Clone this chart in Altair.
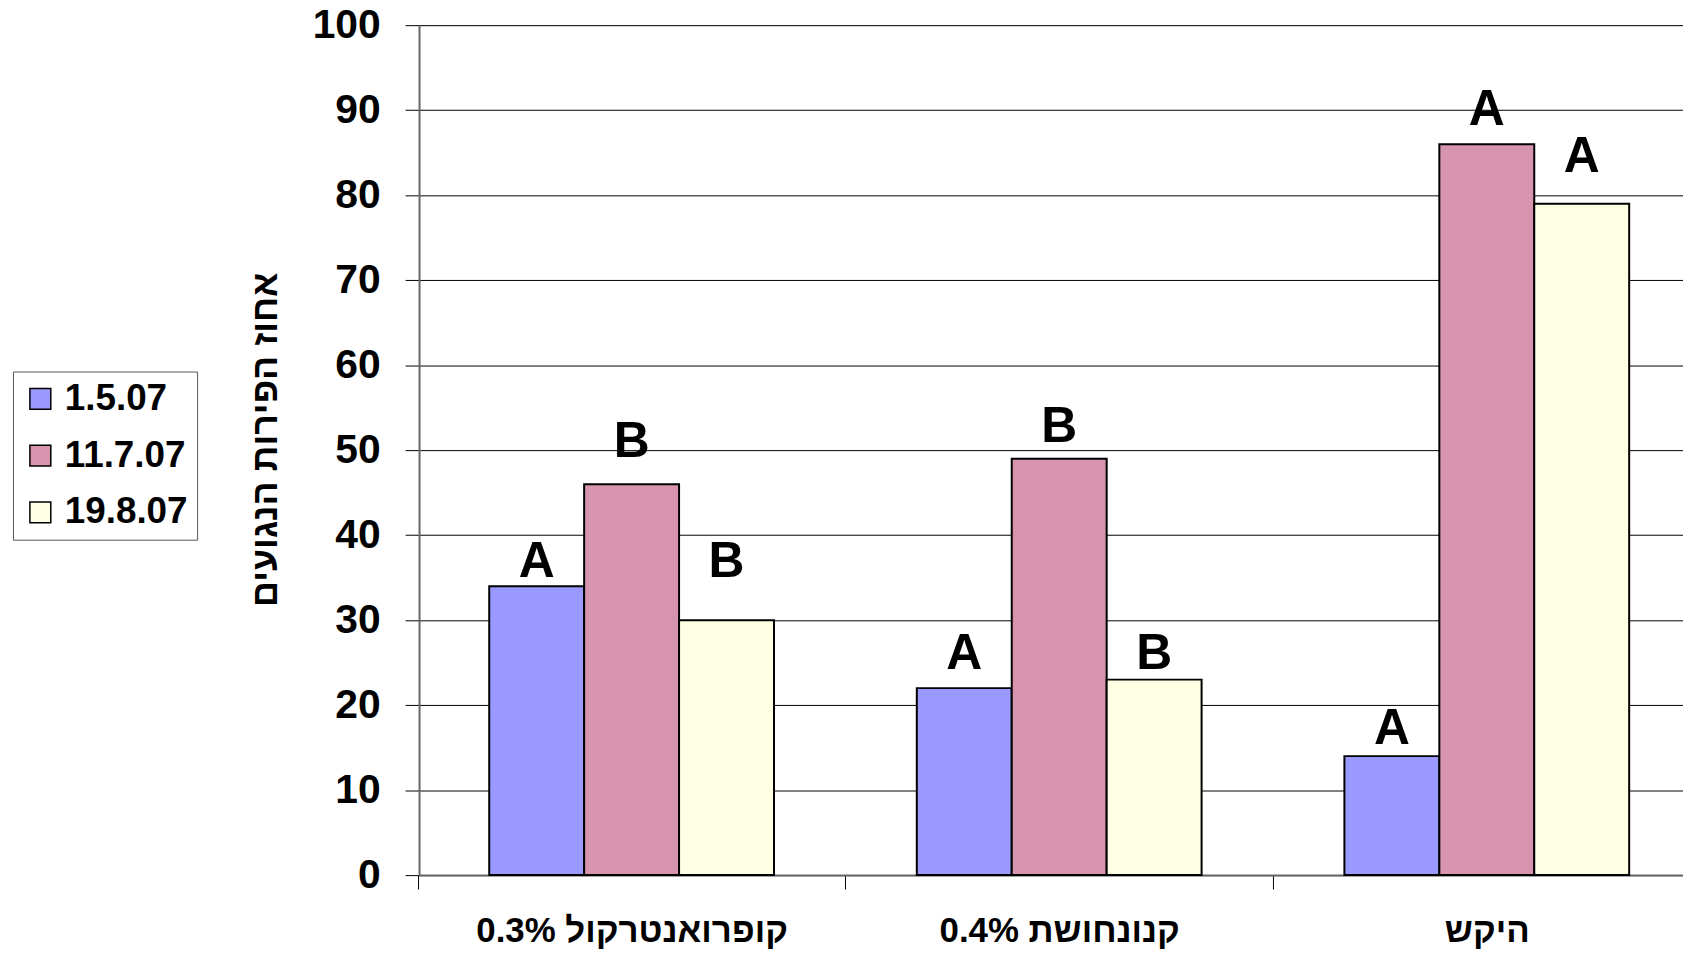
import altair as alt
import pandas as pd

FONT = "Liberation Sans, Arial, sans-serif"

categories = ["0.3% קופרואנטרקול", "0.4% קנונחושת", "היקש"]
dates = ["1.5.07", "11.7.07", "19.8.07"]
values_by_date = {
    "1.5.07": [34, 22, 14],
    "11.7.07": [46, 49, 86],
    "19.8.07": [30, 23, 79],
}
letters_by_date = {
    "1.5.07": ["A", "A", "A"],
    "11.7.07": ["B", "B", "A"],
    "19.8.07": ["B", "B", "A"],
}
# height (in axis units) at which each significance letter is written
letter_height_by_date = {
    "1.5.07": [36.8, 26.0, 17.2],
    "11.7.07": [50.9, 52.7, 90.0],
    "19.8.07": [36.8, 26.0, 84.5],
}
colors = ["#9999ff", "#d794ae", "#ffffe4"]
y_ticks = [0, 10, 20, 30, 40, 50, 60, 70, 80, 90, 100]

rows = []
for d in dates:
    for i, c in enumerate(categories):
        rows.append({
            "category": c,
            "date": d,
            "value": values_by_date[d][i],
            "letter": letters_by_date[d][i],
            "label_y": letter_height_by_date[d][i],
        })
df = pd.DataFrame(rows)

W = 1270
PI = 0.334
PO = 0.145
ALIGN = 0.566
step = W / (3 - PI + 2 * PO)
half_step = step / 2

x_enc = alt.X(
    "category:N",
    sort=categories,
    scale=alt.Scale(paddingInner=PI, paddingOuter=PO, align=ALIGN),
    axis=alt.Axis(
        title=None,
        labelAngle=0,
        tickOffset=-half_step,
        labelOffset=half_step,
        labelLimit=0,
        labelFont=FONT,
        labelFontSize=35,
        labelFontWeight="bold",
        labelColor="black",
        labelPadding=25,
        tickSize=14,
        tickColor="black",
        tickWidth=1,
        domainColor="#666666",
        domainWidth=2,
        grid=False,
    ),
)
xoff_enc = alt.XOffset("date:N", sort=dates, scale=alt.Scale(paddingInner=0, paddingOuter=0))

bars = alt.Chart(df).mark_bar(stroke="black", strokeWidth=2).encode(
    x=x_enc,
    xOffset=xoff_enc,
    y=alt.Y(
        "value:Q",
        scale=alt.Scale(domain=[0, 100], nice=False),
        axis=alt.Axis(
            values=y_ticks,
            title="אחוז הפירות הנגועים",
            titleFont=FONT,
            titleFontSize=36,
            titleFontWeight="bold",
            titleColor="black",
            titleX=-154,
            titleY=416,
            titleAlign="center",
            titleBaseline="middle",
            labelFont=FONT,
            labelFontSize=41,
            labelFontWeight="bold",
            labelColor="black",
            labelPadding=25,
            tickSize=14,
            tickColor="black",
            tickWidth=1,
            domainColor="#666666",
            domainWidth=2,
            grid=True,
            gridColor="black",
            gridWidth=1,
            gridOpacity=1,
        ),
    ),
    color=alt.Color(
        "date:N",
        sort=dates,
        scale=alt.Scale(domain=dates, range=colors),
        legend=alt.Legend(
            title=None,
            orient="none",
            legendX=-408,
            legendY=348,
            strokeColor="#555555",
            fillColor="white",
            padding=9,
            symbolType="square",
            symbolSize=441,
            symbolStrokeColor="black",
            symbolStrokeWidth=1.5,
            labelFont=FONT,
            labelFontSize=37,
            labelFontWeight="bold",
            labelColor="black",
            labelOffset=6,
            rowPadding=19,
        ),
    ),
)

letters = alt.Chart(df).mark_text(
    font=FONT, fontSize=50, fontWeight="bold", color="black", baseline="middle", align="center"
).encode(
    x=alt.X("category:N", sort=categories),
    xOffset=alt.XOffset("date:N", sort=dates),
    y=alt.Y("label_y:Q"),
    text="letter:N",
)

chart = alt.layer(bars, letters).properties(
    width=W,
    height=854,
    autosize=alt.AutoSizeParams(type="none"),
    padding={"left": 413, "top": 15, "right": 0, "bottom": 75},
).configure_view(strokeWidth=0).configure(background="white")

chart.save("out.html", embed_options={"renderer": "svg", "actions": False})
